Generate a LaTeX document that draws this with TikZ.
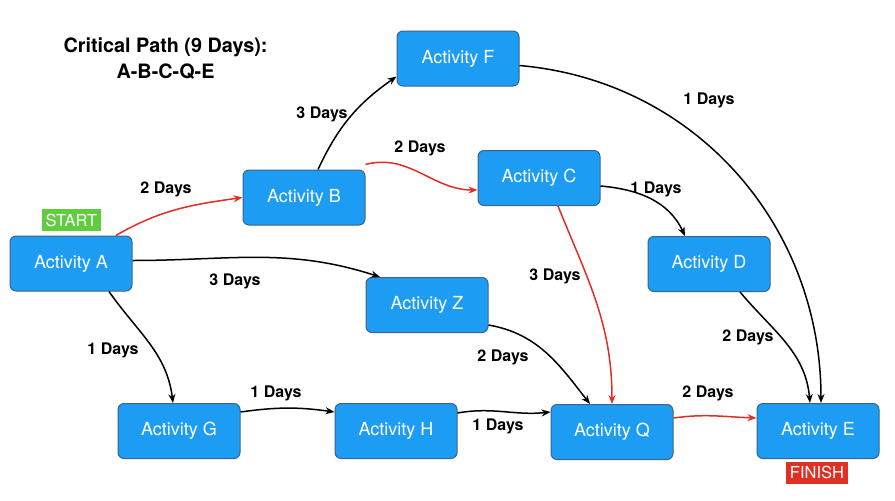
\documentclass[tikz,border=0pt]{standalone}
\usepackage{fontspec}
\setmainfont{TeX Gyre Heros}
\usetikzlibrary{arrows.meta}
\definecolor{actblue}{RGB}{28,156,242}
\definecolor{actedge}{RGB}{60,100,140}
\definecolor{critred}{RGB}{222,48,36}
\definecolor{startgreen}{RGB}{98,204,64}
\begin{document}
\begin{tikzpicture}[
	x=1pt, y=-1pt,
	activity/.style={draw=actedge, line width=1pt, fill=actblue, rounded corners=6pt,
		minimum width=122pt, minimum height=55pt, text=white,
		font=\fontsize{18}{20}\selectfont},
	days/.style={font=\bfseries\fontsize{16}{18}\selectfont},
	link/.style={line width=1.5pt, -{Stealth[length=9pt,width=7pt]}},
	crit/.style={link, draw=critred, -{Stealth[length=9pt,width=7pt,color=critred]}},
	tag/.style={text=white, inner xsep=4pt, minimum height=22pt, font=\fontsize{16.5}{18}\selectfont}]
\useasboundingbox[fill=white] (0,0) rectangle (895,501);
% title
\node[font=\bfseries\fontsize{19.8}{26}\selectfont, align=center] (title) at (165.5,59)
	{Critical Path (9 Days):\\A-B-C-Q-E};
% activities
\node[activity] (A) at (71,263.5) {Activity A};
\node[activity] (B) at (304,197.5) {Activity B};
\node[activity] (F) at (458,58.5) {Activity F};
\node[activity] (C) at (539,178) {Activity C};
\node[activity] (D) at (709,264) {Activity D};
\node[activity] (Z) at (427,305) {Activity Z};
\node[activity] (G) at (179,431) {Activity G};
\node[activity] (H) at (396,431) {Activity H};
\node[activity] (Q) at (612,432) {Activity Q};
\node[activity] (E) at (818,431) {Activity E};
\node[tag, fill=startgreen] (start) at (71.5,220) {START};
\node[tag, fill=critred] (finish) at (817,472.5) {FINISH};
% critical path
\draw[crit] (A.32) to[out=30, in=188] (B.west);
\draw[crit] ([yshift=5pt]B.north east) to[out=15, in=180] ([yshift=-12pt]C.west);
\draw[crit] ([xshift=19pt]C.south) to[out=-68, in=90] (Q.north);
\draw[crit] ([yshift=14pt]Q.east) to[out=8, in=178] ([yshift=13pt]E.west);
% other links
\draw[link] ([xshift=14pt]B.north) to[out=65, in=215] ([yshift=10pt]F.south west);
\draw[link] ([yshift=-7pt]F.east) to[out=-5, in=90] ([xshift=3pt]E.north);
\draw[link] ([yshift=-8pt]C.east) to[out=-5, in=115] ([xshift=-24pt]D.north);
\draw[link] ([xshift=31pt]D.south) to[out=-50, in=95] ([xshift=-8pt]E.north);
\draw[link] ([yshift=3pt]A.east) to[out=0, in=162] ([xshift=-47pt]Z.north);
\draw[link] ([yshift=-20pt]Z.east) to[out=-10, in=128] ([xshift=-22pt]Q.north);
\draw[link] ([xshift=38pt]A.south) to[out=-55, in=97] ([xshift=-6pt]G.north);
\draw[link] ([yshift=19pt]G.east) to[out=8, in=172] ([yshift=19pt]H.west);
\draw[link] ([yshift=18pt]H.east) to[out=10, in=186] ([yshift=20pt]Q.west);
% durations
\node[days] (dAB) at (166,189) {2 Days};
\node[days] (dBF) at (322,114) {3 Days};
\node[days] (dBC) at (420,148) {2 Days};
\node[days] (dFE) at (709,100) {1 Days};
\node[days] (dCD) at (656,189) {1 Days};
\node[days] (dCQ) at (555,276) {3 Days};
\node[days] (dAZ) at (235,281) {3 Days};
\node[days] (dZQ) at (503,357) {2 Days};
\node[days] (dDE) at (748,337) {2 Days};
\node[days] (dAG) at (113,350) {1 Days};
\node[days] (dGH) at (276,393) {1 Days};
\node[days] (dHQ) at (498,426) {1 Days};
\node[days] (dQE) at (708,393) {2 Days};
\end{tikzpicture}
\end{document}
